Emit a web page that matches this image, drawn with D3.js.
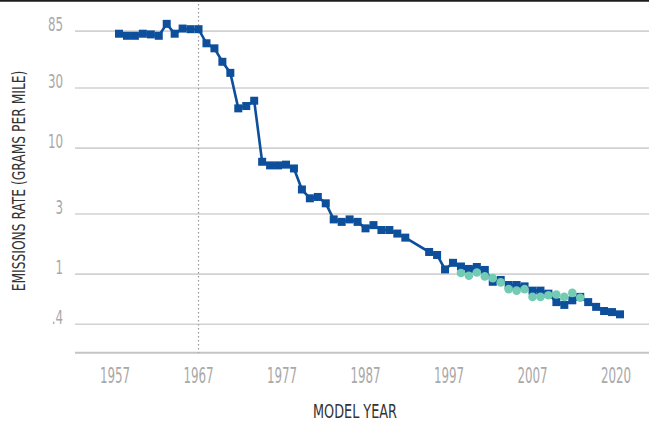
<!DOCTYPE html>
<html>
<head>
<meta charset="utf-8">
<script src="https://cdn.jsdelivr.net/npm/d3@7/dist/d3.min.js"></script>
<style>
  html, body { margin: 0; padding: 0; background: #fff; }
  svg { display: block; }
  text { font-family: "Liberation Sans Narrow", "Arial Narrow", "DejaVu Sans Condensed", sans-serif; }
</style>
</head>
<body>
<svg id="chart" width="649" height="426"></svg>
<script>
// Fleet-average emissions rate by model year (grams per mile, log scale)
const fleetYears = [
  1957, 1958, 1959, 1960, 1961, 1962, 1963, 1964, 1965, 1966,
  1967, 1968, 1969, 1970, 1971, 1972, 1973, 1974, 1975, 1976,
  1977, 1978, 1979, 1980, 1981, 1982, 1983, 1984, 1985, 1986,
  1987, 1988, 1989, 1990, 1991, 1992, 1993, 1996, 1997, 1998,
  1999, 2000, 2001, 2002, 2003, 2004, 2005, 2006, 2007, 2008,
  2009, 2010, 2011, 2012, 2013, 2014, 2015, 2016, 2017, 2018,
  2019, 2020
];
const fleetRates = [
  81, 78, 78, 81, 80, 78, 97, 81, 89, 88,
  88, 68, 62, 48.5, 39.6, 20.7, 21.6, 23.8, 7.8, 7.3,
  7.3, 7.4, 6.9, 4.7, 4.0, 4.1, 3.65, 2.72, 2.6, 2.72,
  2.6, 2.31, 2.45, 2.24, 2.24, 2.1, 1.95, 1.5, 1.42, 1.09,
  1.23, 1.15, 1.1, 1.14, 1.08, 0.87, 0.9, 0.82, 0.82, 0.8,
  0.74, 0.74, 0.70, 0.6, 0.57, 0.62, 0.66, 0.6, 0.55, 0.51,
  0.5, 0.48
];

// Second measurement series (circles)
const testYears = [
  2000, 2001, 2002, 2003, 2004, 2005, 2006, 2007, 2008, 2009,
  2010, 2011, 2012, 2013, 2014, 2015
];
const testRates = [
  1.02, 0.97, 1.03, 0.96, 0.93, 0.86, 0.76, 0.74, 0.76, 0.66,
  0.66, 0.68, 0.69, 0.66, 0.71, 0.65
];

const yTickValues = [85, 30, 10, 3, 1, 0.4];
const yTickLabels = ["85", "30", "10", "3", "1", ".4"];
const xTickLabels = ["1957", "1967", "1977", "1987", "1997", "2007", "2020"];
const standardsYear = 1967;

const svg = d3.select("#chart");
const W = 649;

const x = d3.scaleLinear().domain([1957, 2020]).range([119, 620]);
const y = d3.scaleLog().domain([0.238, 150]).range([352.7, 0]);

// top rule
svg.append("line")
  .attr("x1", 0).attr("x2", W).attr("y1", 0.8).attr("y2", 0.8)
  .attr("stroke", "#1d1d1d").attr("stroke-width", 2);

// horizontal gridlines with labels sitting on them
const grid = svg.append("g");
grid.selectAll("line.grid").data(yTickValues).join("line")
  .attr("class", "grid")
  .attr("x1", 75).attr("x2", W)
  .attr("y1", d => y(d)).attr("y2", d => y(d))
  .attr("stroke", "#d2d2d2").attr("stroke-width", 1.6);

// condensed labels: narrow the glyphs horizontally around their anchor
grid.selectAll("text").data(yTickValues).join("text")
  .attr("transform", d => `translate(63,${y(d)}) scale(0.66,1)`)
  .attr("text-anchor", "end")
  .attr("fill", "#a9a9a9")
  .attr("font-size", 20)
  .text((d, i) => yTickLabels[i]);

// baseline
svg.append("line")
  .attr("x1", 75).attr("x2", W)
  .attr("y1", y(0.238)).attr("y2", y(0.238))
  .attr("stroke", "#c4c4c4").attr("stroke-width", 2);

// x labels spread evenly across the year range
const labelStep = (2020 - 1957) / (xTickLabels.length - 1);
svg.append("g").selectAll("text").data(xTickLabels).join("text")
  .attr("transform", (d, i) => `translate(${x(1957 + i * labelStep) - 4},383) scale(0.6,1)`)
  .attr("text-anchor", "middle")
  .attr("fill", "#a9a9a9")
  .attr("font-size", 22)
  .text(d => d);

// dotted marker at the start of federal standards
svg.append("line")
  .attr("x1", x(standardsYear)).attr("x2", x(standardsYear))
  .attr("y1", 4).attr("y2", y(0.238))
  .attr("stroke", "#9a9a9a").attr("stroke-width", 1.2)
  .attr("stroke-dasharray", "1.5,2.5");

// axis titles
svg.append("text")
  .attr("transform", `translate(25,${181}) rotate(-90) scale(0.76,1)`)
  .attr("text-anchor", "middle")
  .attr("fill", "#333")
  .attr("font-size", 18)
  .text("EMISSIONS RATE (GRAMS PER MILE)");

svg.append("text")
  .attr("transform", "translate(355,418) scale(0.75,1)")
  .attr("text-anchor", "middle")
  .attr("fill", "#333")
  .attr("font-size", 19)
  .text("MODEL YEAR");

// fleet series: line with square markers
const fleet = fleetYears.map((yr, i) => ({ yr, v: fleetRates[i] }));
const blue = "#0d4f9b";
svg.append("path")
  .datum(fleet)
  .attr("fill", "none")
  .attr("stroke", blue)
  .attr("stroke-width", 2.6)
  .attr("d", d3.line().x(d => x(d.yr)).y(d => y(d.v)));

svg.append("g").selectAll("rect").data(fleet).join("rect")
  .attr("x", d => x(d.yr) - 4).attr("y", d => y(d.v) - 4)
  .attr("width", 8).attr("height", 8)
  .attr("fill", blue);

// test series: circles
const tests = testYears.map((yr, i) => ({ yr, v: testRates[i] }));
svg.append("g").selectAll("circle").data(tests).join("circle")
  .attr("cx", d => x(d.yr)).attr("cy", d => y(d.v))
  .attr("r", 4.3)
  .attr("fill", "#72cbb3");
</script>
</body>
</html>
